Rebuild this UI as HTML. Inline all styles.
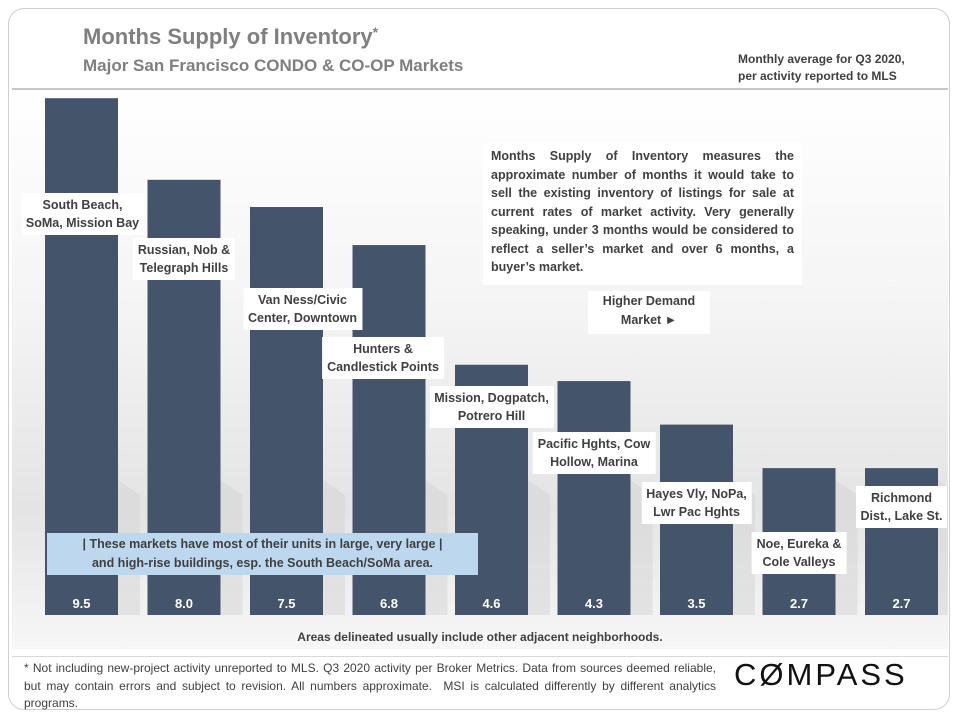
<!DOCTYPE html>
<html><head><meta charset="utf-8"><style>
body{margin:0;width:960px;height:720px;background:#fff;font-family:"Liberation Sans",sans-serif;overflow:hidden}
.abs{position:absolute}
.lbl{position:absolute;background:#fff;color:#404040;font-size:12.5px;font-weight:bold;text-align:center;line-height:18px;padding:3px 5px;transform:translateX(-50%);white-space:nowrap}
</style></head><body>
<div class="abs" style="left:8px;top:8px;width:942px;height:702px;border:1px solid #d0d0d0;border-radius:16px;box-sizing:border-box"></div>
<div class="abs" style="left:12px;top:89px;width:936px;height:560px;background:linear-gradient(#fff 0%,#f4f4f4 40%,#e4e4e4 75%,#f7f7f7 100%)"></div>
<div class="abs" style="left:12px;top:88px;width:936px;height:2px;background:#c8c8c8"></div>
<div class="abs" style="left:83px;top:24px;font-size:22px;font-weight:bold;color:#7f7f7f">Months Supply of Inventory<span style="font-size:14px;vertical-align:top">*</span></div>
<div class="abs" style="left:83px;top:56px;font-size:17px;font-weight:bold;color:#7f7f7f">Major San Francisco CONDO &amp; CO-OP Markets</div>
<div class="abs" style="left:738px;top:51px;font-size:12px;font-weight:bold;color:#404040;line-height:17px">Monthly average for Q3 2020,<br>per activity reported to MLS</div>
<svg class="abs" id="chart" style="left:0;top:0" width="948" height="720"></svg>
<div class="abs" style="left:483px;top:143px;width:319px;height:142px;background:#fff;box-sizing:border-box;padding:4px 8px;font-size:12.5px;font-weight:bold;color:#404040;line-height:18.5px;text-align:justify">Months Supply of Inventory measures the approximate number of months it would take to sell the existing inventory of listings for sale at current rates of market activity. Very generally speaking, under 3 months would be considered to reflect a seller’s market and over 6 months, a buyer’s market.</div>
<div class="abs" style="left:588px;top:291px;width:122px;height:42px;background:#fff;font-size:12.5px;font-weight:bold;color:#404040;text-align:center;line-height:19px;padding-top:1px">Higher Demand<br>Market ►</div>
<div class="abs" style="left:47px;top:533px;width:431px;height:42px;background:#bdd7ee;font-size:12.5px;font-weight:bold;color:#404040;text-align:center;line-height:19px;padding-top:2px;box-sizing:border-box">| These markets have most of their units in large, very large |<br>and high-rise buildings, esp. the South Beach/SoMa area.</div>
<div id="labels"></div>
<div class="abs" style="left:0;width:960px;top:630px;text-align:center;font-size:12px;font-weight:bold;color:#404040">Areas delineated usually include other adjacent neighborhoods.</div>
<div class="abs" style="left:12px;top:656px;width:936px;height:1px;background:#d8d8d8"></div>
<div class="abs" style="left:24px;top:660px;width:692px;font-size:12px;color:#404040;line-height:17.5px;text-align:justify">* Not including new-project activity unreported to MLS. Q3 2020 activity per Broker Metrics. Data from sources deemed reliable, but may contain errors and subject to revision. All numbers approximate.&nbsp; MSI is calculated differently by different analytics programs.</div>
<div class="abs" style="left:734px;top:657px;font-size:31px;letter-spacing:3px;color:#111">CØMPASS</div>
<script>
const categories=[["South Beach,","SoMa, Mission Bay"],["Russian, Nob &","Telegraph Hills"],["Van Ness/Civic","Center, Downtown"],["Hunters &","Candlestick Points"],["Mission, Dogpatch,","Potrero Hill"],["Pacific Hghts, Cow","Hollow, Marina"],["Hayes Vly, NoPa,","Lwr Pac Hghts"],["Noe, Eureka &","Cole Valleys"],["Richmond","Dist., Lake St."]];
const values=[9.5,8.0,7.5,6.8,4.6,4.3,3.5,2.7,2.7];
const labelTops=[193,238,288,337,386,432,482,532,486];
const baseY=615,pxPerUnit=54.4,x0=45,step=102.5,bw=73;
const xScale=i=>x0+i*step;
const yScale=v=>baseY-v*pxPerUnit;
const svg=document.getElementById('chart');
const NS='http://www.w3.org/2000/svg';
values.forEach((v,i)=>{
  const sh=document.createElementNS(NS,'polygon');
  
  
  const x=xScale(i)+bw,t=Math.max(yScale(v),480);
  sh.setAttribute('points',`${x},${t} ${x+22},${t+15} ${x+22},${baseY} ${x},${baseY}`);
  sh.setAttribute('fill','#d4d4d4');sh.setAttribute('opacity','0.5');
  svg.appendChild(sh);
  const r=document.createElementNS(NS,'rect');
  
  
  r.setAttribute('x',xScale(i));r.setAttribute('y',yScale(v));
  r.setAttribute('width',bw);r.setAttribute('height',baseY-yScale(v));
  r.setAttribute('fill','#44546a');
  svg.appendChild(r);
  const t2=document.createElementNS(NS,'text');
  
  
  t2.setAttribute('x',xScale(i)+bw/2);t2.setAttribute('y',608);
  t2.setAttribute('text-anchor','middle');t2.setAttribute('fill','#fff');
  t2.setAttribute('font-size','13');t2.setAttribute('font-weight','bold');
  t2.setAttribute('font-family','Liberation Sans, sans-serif');
  t2.textContent=v.toFixed(1);
  svg.appendChild(t2);
});
const lab=document.getElementById('labels');
categories.forEach((c,i)=>{
  const d=document.createElement('div');
  
  
  d.className='lbl';
  d.style.left=(xScale(i)+bw/2+(i==0?1:(i==2?16:(i==3?-6:0))))+'px';
  d.style.top=labelTops[i]+'px';
  d.innerHTML=c[0]+'<br>'+c[1];
  lab.appendChild(d);
});
</script>
</body></html>
